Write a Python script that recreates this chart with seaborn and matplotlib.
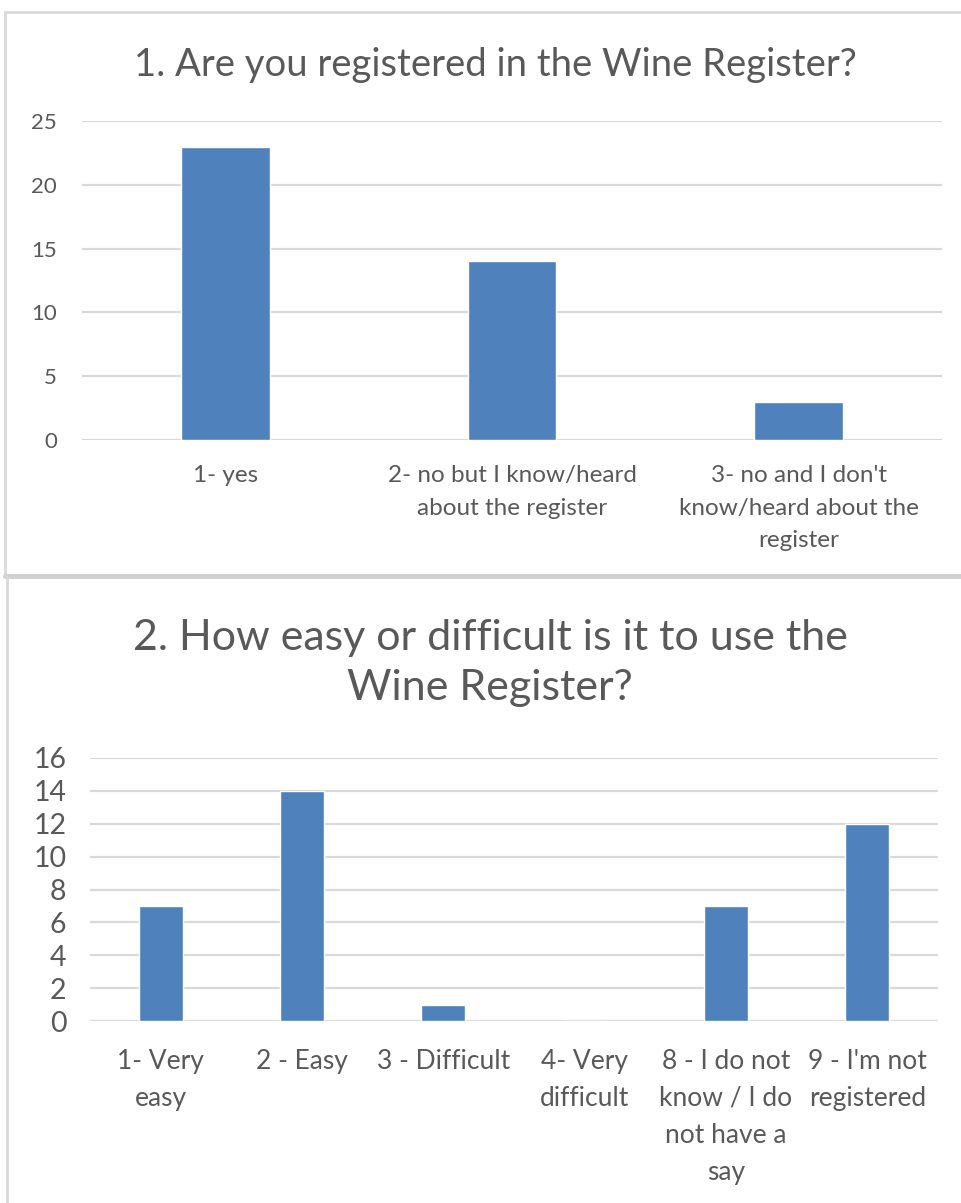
import matplotlib
matplotlib.use('Agg')
import matplotlib.pyplot as plt
import seaborn as sns
from matplotlib.patches import Rectangle
from matplotlib.lines import Line2D

# Question 1 - registration status
q1_labels = ['1- yes',
             '2- no but I know/heard\nabout the register',
             "3- no and I don't\nknow/heard about the\nregister"]
q1_counts = [23, 14, 3]

# Question 2 - ease of use
q2_labels = ['1- Very\neasy', '2 - Easy', '3 - Difficult', '4- Very\ndifficult',
             '8 - I do not\nknow / I do\nnot have a\nsay', "9 - I'm not\nregistered"]
q2_counts = [7, 14, 1, 0, 7, 12]

sns.set_style('white')
plt.rcParams['font.family'] = ['Lato', 'DejaVu Sans']

bar_blue = '#4F81BD'
text_grey = '#595959'
grid_grey = '#D9D9D9'

W, H = 962, 1203
fig = plt.figure(figsize=(W / 100, H / 100), dpi=100)


def px_axes(x0, x1, ytop, ybot):
    # convert pixel box (image coords) to figure fractions
    return fig.add_axes([x0 / W, 1 - ybot / H, (x1 - x0) / W, (ybot - ytop) / H])


def style_axes(ax, ymax, step, tick_size, label_size, xpad, ypad, spacing):
    ax.set_ylim(0, ymax)
    ax.set_yticks(range(0, ymax + 1, step))
    ax.grid(axis='y', color=grid_grey, linewidth=1.6)
    ax.set_axisbelow(True)
    for s in ax.spines.values():
        s.set_visible(False)
    ax.set_xlabel('')
    ax.set_ylabel('')
    ax.tick_params(axis='both', length=0, colors=text_grey)
    ax.tick_params(axis='y', labelsize=tick_size, pad=ypad)
    ax.tick_params(axis='x', labelsize=label_size, pad=xpad)
    for t in ax.get_xticklabels():
        t.set_linespacing(spacing)


# panel borders
fig.patches.append(Rectangle((5 / W, 1 - 575 / H), (W - 5) / W, (575 - 12) / H,
                             transform=fig.transFigure, fill=False,
                             edgecolor='#D9D9D9', linewidth=2))
fig.lines.append(Line2D([5 / W, 1], [1 - 576 / H, 1 - 576 / H], transform=fig.transFigure,
                        color='#D0D0D0', linewidth=3.5))
fig.lines.append(Line2D([7 / W, 7 / W], [0, 1 - 576 / H], transform=fig.transFigure,
                        color='#D9D9D9', linewidth=2))

# top chart
ax1 = px_axes(82, 942, 121, 440)
sns.barplot(x=q1_labels, y=q1_counts, color=bar_blue, width=0.31, saturation=1, ax=ax1)
style_axes(ax1, 25, 5, 16, 17.5, 18, 18, 1.68)
fig.text(495 / W, 1 - 65 / H, '1. Are you registered in the Wine Register?',
         ha='center', va='center', fontsize=27.5, color=text_grey)

# bottom chart
ax2 = px_axes(90, 938, 758, 1021)
sns.barplot(x=q2_labels, y=q2_counts, color=bar_blue, width=0.31, saturation=1, ax=ax2)
style_axes(ax2, 16, 2, 20.5, 19, 20, 17, 1.6)
fig.text(490 / W, 1 - 663 / H, '2. How easy or difficult is it to use the\nWine Register?',
         ha='center', va='center', fontsize=31, color=text_grey, linespacing=1.38)

fig.savefig('out.png', dpi=100, facecolor='white')
